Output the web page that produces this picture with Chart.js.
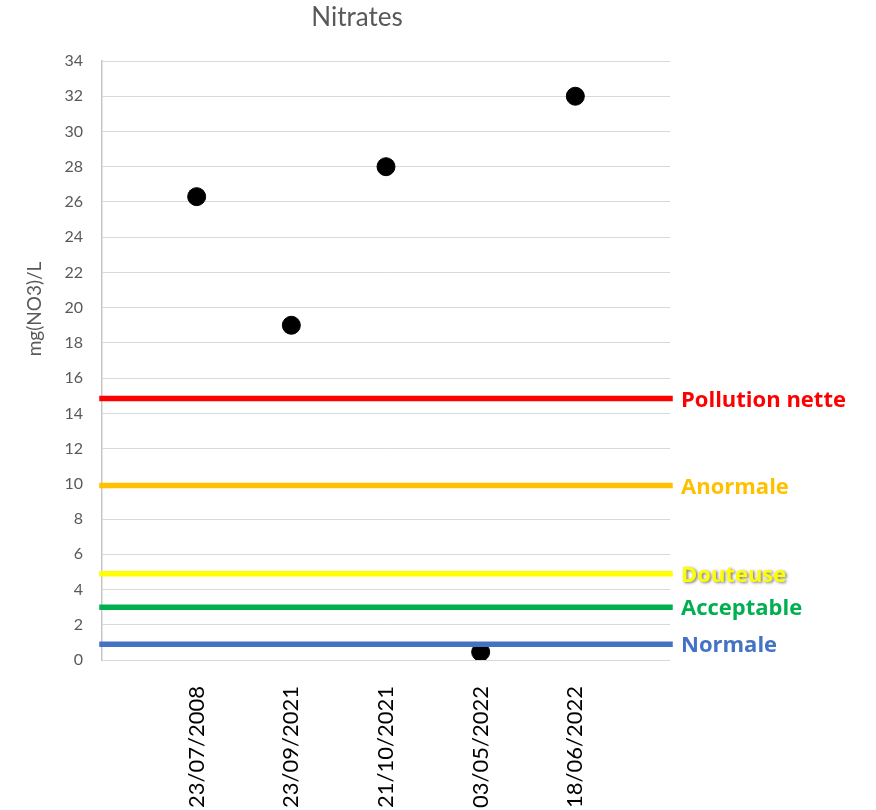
<!DOCTYPE html>
<html>
<head>
<meta charset="utf-8">
<script src="https://cdn.jsdelivr.net/npm/chart.js@4"></script>
<style>
  html, body { margin: 0; padding: 0; background: #fff; }
  #wrap { width: 876px; height: 810px; }
</style>
</head>
<body>
<div id="wrap"><canvas id="c" width="876" height="810"></canvas></div>
<script>
// ---- data ----
const dates = ['23/07/2008', '23/09/2021', '21/10/2021', '03/05/2022', '18/06/2022'];
const nitrates = [26.3, 19.0, 28.0, 0.45, 32.0];
const thresholdNames = ['Pollution nette', 'Anormale', 'Douteuse', 'Acceptable', 'Normale'];
const thresholdValues = [14.85, 9.9, 4.9, 3.0, 0.9];
const thresholdColors = ['#FF0000', '#FFC000', '#FFFF00', '#00B050', '#4472C4'];
const yTicks = [0, 2, 4, 6, 8, 10, 12, 14, 16, 18, 20, 22, 24, 26, 28, 30, 32, 34];

const FONT = 'Lato, "Open Sans", sans-serif';
const LABEL_FONT = '"Open Sans", Lato, sans-serif';

const pointData = dates.map((d, i) => ({ x: i + 1, y: nitrates[i] }));
const xMax = dates.length + 1;

const lineSets = thresholdValues.map((v, i) => ({
  type: 'line',
  label: thresholdNames[i],
  data: [{ x: 0, y: v }, { x: xMax, y: v }],
  borderColor: thresholdColors[i],
  backgroundColor: thresholdColors[i],
  borderWidth: 5.5,
  borderCapStyle: 'square',
  pointRadius: 0,
  clip: false,
  order: 0
}));

const decor = {
  id: 'decor',
  afterDatasetsDraw(chart) {
    const ctx = chart.ctx;
    const y = chart.scales.y;
    const area = chart.chartArea;
    // title
    ctx.save();
    ctx.fillStyle = '#595959';
    ctx.font = '26px ' + FONT;
    ctx.textAlign = 'center';
    ctx.textBaseline = 'alphabetic';
    ctx.fillText('Nitrates', 357, 26);
    ctx.restore();
    // y axis title
    ctx.save();
    ctx.translate(35, 309);
    ctx.rotate(-Math.PI / 2);
    ctx.fillStyle = '#595959';
    ctx.font = '19px ' + FONT;
    ctx.textAlign = 'center';
    ctx.textBaseline = 'middle';
    ctx.fillText('mg(NO3)/L', 0, 0);
    ctx.restore();
    // threshold labels
    thresholdNames.forEach((name, i) => {
      const py = y.getPixelForValue(thresholdValues[i]);
      ctx.save();
      ctx.font = 'bold 22px ' + LABEL_FONT;
      ctx.textAlign = 'left';
      ctx.textBaseline = 'middle';
      if (name === 'Douteuse') {
        ctx.shadowColor = 'rgba(0,0,0,0.55)';
        ctx.shadowBlur = 3;
        ctx.shadowOffsetX = 1.5;
        ctx.shadowOffsetY = 1.5;
      }
      ctx.fillStyle = thresholdColors[i];
      ctx.fillText(name, area.right + 11, py + 2);
      ctx.restore();
    });
  }
};

new Chart(document.getElementById('c'), {
  type: 'scatter',
  data: {
    datasets: [
      {
        label: 'Nitrates',
        data: pointData,
        backgroundColor: '#000000',
        borderColor: '#000000',
        pointRadius: 9,
        pointHoverRadius: 9,
        order: 1
      },
      ...lineSets
    ]
  },
  options: {
    responsive: false,
    animation: false,
    devicePixelRatio: 1,
    layout: { padding: { top: 61, right: 206, left: 0, bottom: 0 } },
    plugins: {
      legend: { display: false },
      tooltip: { enabled: false },
      title: { display: false }
    },
    scales: {
      x: {
        type: 'linear',
        min: 0,
        max: xMax,
        afterBuildTicks(scale) {
          scale.ticks = dates.map((d, i) => ({ value: i + 1 }));
        },
        afterFit(scale) { scale.height = 150; },
        grid: { display: false, drawTicks: false },
        border: { display: false },
        ticks: {
          autoSkip: false,
          maxRotation: 90,
          minRotation: 90,
          padding: 26,
          color: '#000000',
          font: { family: FONT, size: 22 },
          callback: (v) => (v >= 1 && v <= dates.length) ? dates[v - 1] : ''
        }
      },
      y: {
        min: yTicks[0],
        max: yTicks[yTicks.length - 1],
        afterBuildTicks(scale) {
          scale.ticks = yTicks.map(v => ({ value: v }));
        },
        afterFit(scale) { scale.width = 102; },
        grid: { color: '#d9d9d9', lineWidth: 1, drawTicks: false },
        border: { display: true, color: '#c6c6c6', width: 1.5 },
        ticks: {
          padding: 19,
          color: '#595959',
          font: { family: FONT, size: 16 }
        }
      }
    }
  },
  plugins: [decor]
});
</script>
</body>
</html>
